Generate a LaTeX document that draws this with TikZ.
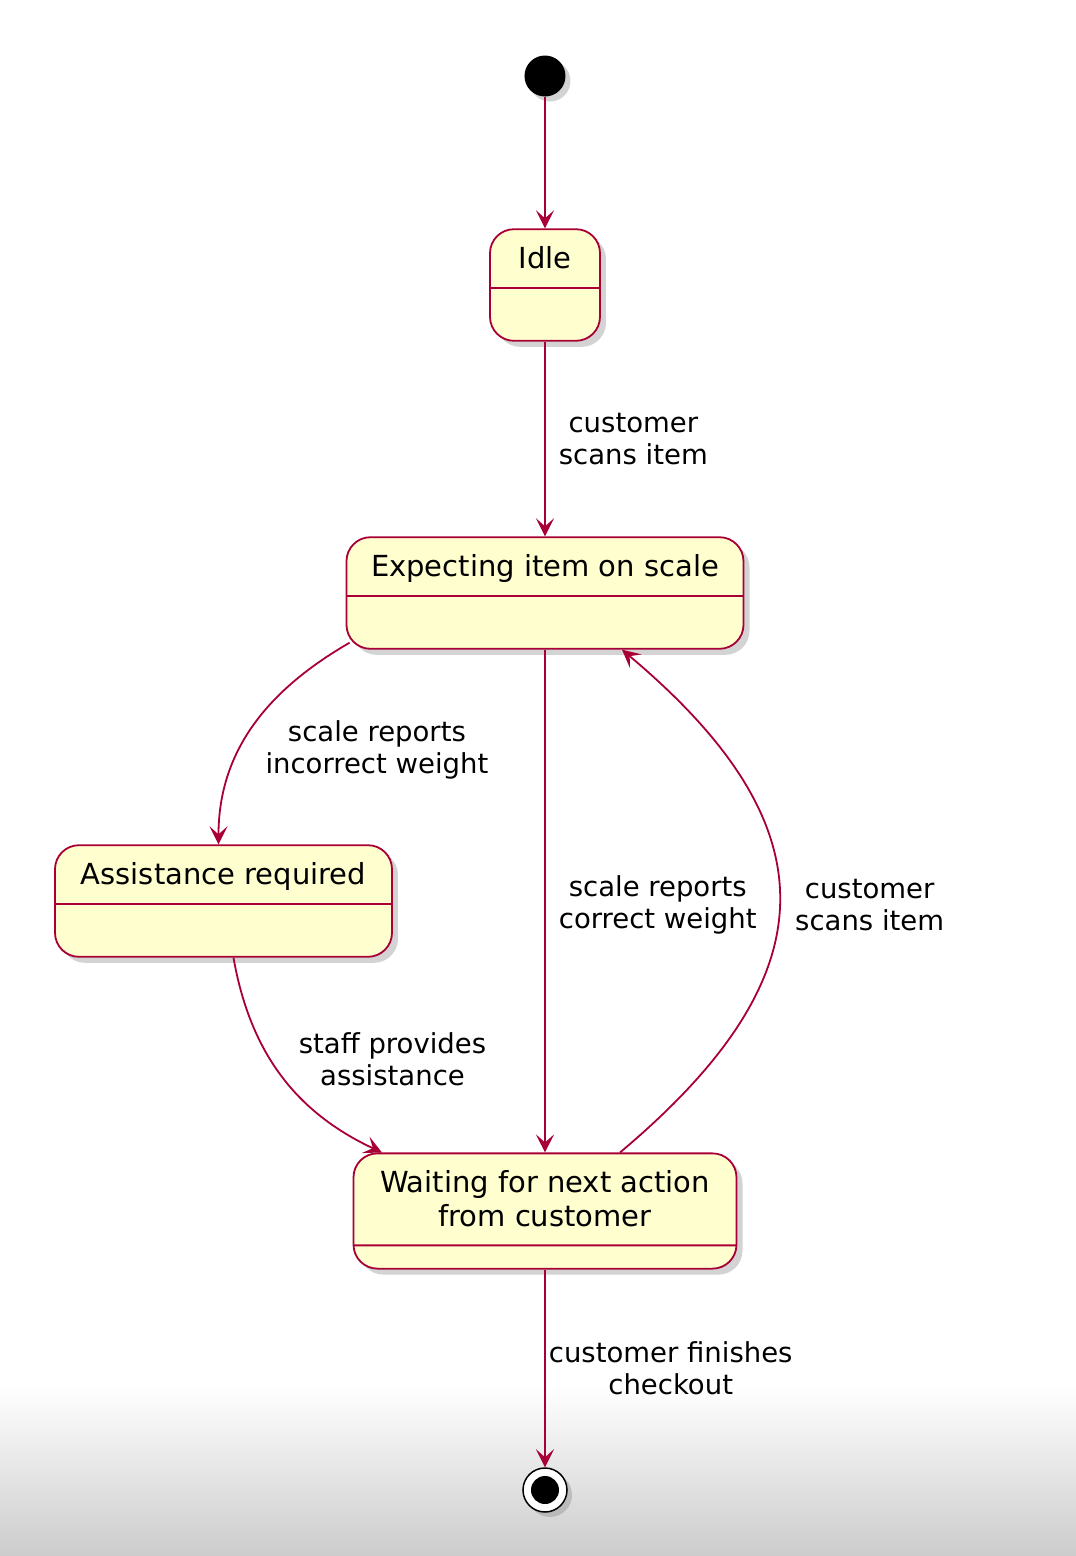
\documentclass[tikz,border=0pt]{standalone}
\usepackage{fontspec}
\setmainfont{DejaVu Sans}
\usepackage{xcolor}
\usetikzlibrary{positioning, arrows.meta, shapes.multipart, shadows}

\definecolor{umlred}{HTML}{A80036}
\definecolor{umlfill}{HTML}{FEFECE}
\newcommand{\statestrut}{\rule[-8pt]{0pt}{36pt}}

\begin{document}
\begin{tikzpicture}[->,>={Stealth[length=18pt,width=18pt,inset=8pt]},x=1pt,y=1pt,auto,node distance=308pt,line width=1.8pt,draw=umlred]
        \tikzstyle{umlstate}=[rectangle split, rectangle split parts=2, rounded corners=24pt, draw=umlred, fill=umlfill, text=black,
                              font=\fontsize{29}{34}\selectfont, inner xsep=20pt, inner ysep=10.5pt,
                              drop shadow={shadow xshift=6pt, shadow yshift=-6pt, opacity=.35}]
        \tikzstyle{onetitle}=[rectangle split empty part height=30pt, rectangle split empty part depth=0pt]
        \tikzstyle{lbl}=[font=\fontsize{27.5}{32}\selectfont, align=center, text=black, inner sep=3pt]

        % background of the screenshot
        \useasboundingbox (-545,76) rectangle (531,-1480);
        \shade[-, top color=white, bottom color=black!20] (-545,-1310) rectangle (531,-1480);

        \node[circle, fill=black, minimum size=41pt, inner sep=0pt, drop shadow={shadow xshift=5pt, shadow yshift=-5pt, opacity=.35}] (init) {};
        \node[umlstate, onetitle, minimum width=110pt] (idle)   [below of=init, node distance=209pt] {\statestrut Idle};
        \node[umlstate, onetitle, minimum width=397pt] (expect) [below of=idle]                      {\statestrut Expecting item on scale};
        \node[umlstate, onetitle, minimum width=337pt] (assist) [below of=expect, xshift=-321.5pt]   {\statestrut Assistance required};
        \node[umlstate, minimum width=383pt, inner ysep=8pt, rectangle split empty part height=0pt, rectangle split empty part depth=0pt]
                                             (wait)   [below of=expect, node distance=618pt]
                                             {\begin{tabular}{@{}c@{}}\rule{0pt}{30pt}Waiting for next action\\from customer\end{tabular}};
        \node[circle, draw=black, line width=1.5pt, fill=white, minimum size=44pt, inner sep=0pt,
              path picture={\fill[black] (path picture bounding box.center) circle (14pt);},
              drop shadow={shadow xshift=5pt, shadow yshift=-5pt, opacity=.35}]
                                             (final)  [below of=wait, node distance=279pt] {};

        \path (init) edge (idle)
              (idle) edge node[lbl, xshift=10pt] {customer\\scans item} (expect)
              ([xshift=4pt,yshift=7pt]expect.south west) edge [out=210, in=90]
                     node[lbl, pos=0.45, xshift=1pt] {scale reports\\incorrect weight} ([xshift=-5pt]assist.north)
              (expect) edge node[lbl, xshift=10pt, yshift=-4pt] {scale reports\\correct weight} (wait)
              ([xshift=75pt]wait.north) edge [out=40, in=-40, looseness=1.4]
                     node[lbl, swap, xshift=12pt, yshift=-4pt] {customer\\scans item} ([xshift=77pt]expect.south)
              ([xshift=10pt]assist.south) edge [out=-80, in=155]
                     node[lbl, pos=0.55, xshift=6pt, yshift=-5pt] {staff provides\\assistance} ([xshift=-163pt]wait.north)
              (wait) edge node[lbl] {customer finishes\\checkout} (final);
    \end{tikzpicture}
\end{document}
